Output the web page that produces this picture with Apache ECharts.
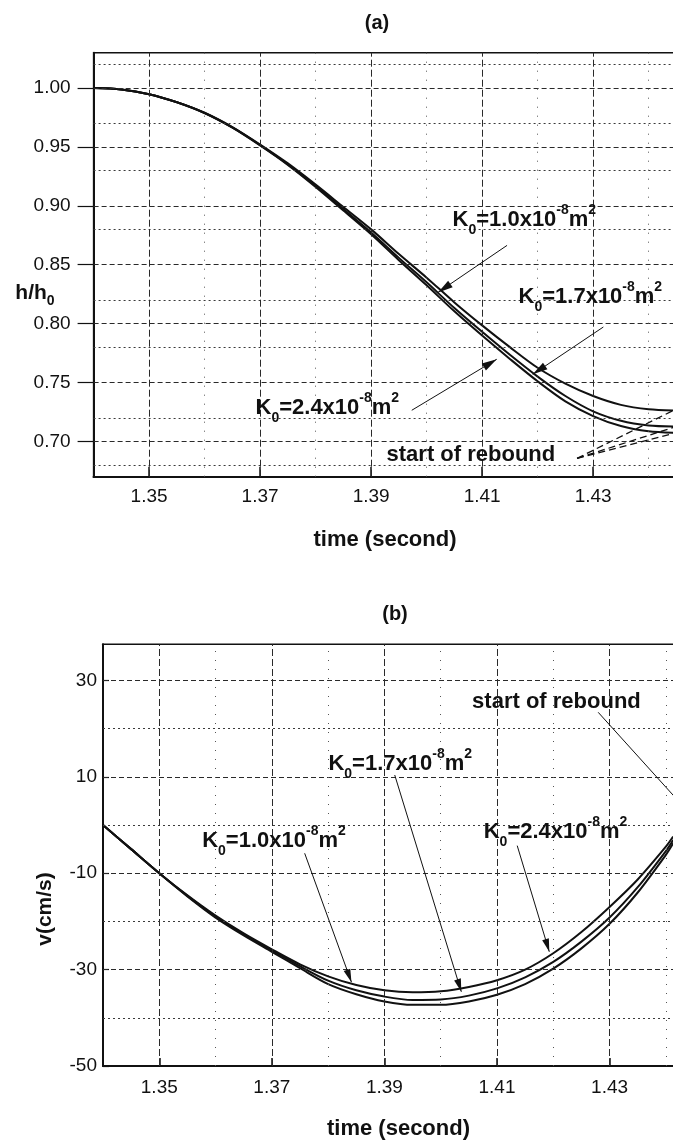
<!DOCTYPE html>
<html>
<head>
<meta charset="utf-8">
<script src="https://cdn.jsdelivr.net/npm/echarts@6/dist/echarts.min.js"></script>
<style>
  html, body { margin: 0; padding: 0; background: #fff; }
  #chart { width: 673px; height: 1142px; }
</style>
</head>
<body>
<div id="chart"></div>
<script>
// Sample times (s) for the thickness curves, panel (a)
const timeH = [1.340, 1.345, 1.350, 1.355, 1.360, 1.365, 1.370, 1.375, 1.380, 1.385, 1.390,
               1.395, 1.400, 1.405, 1.410, 1.415, 1.420, 1.425, 1.430, 1.435, 1.440, 1.4445];
// Normalised thickness h/h0 for three permeabilities
const hK10 = [1.000, 0.9988, 0.9948, 0.9880, 0.9790, 0.9668, 0.9520, 0.9360, 0.9180, 0.8990, 0.8800,
              0.8590, 0.8390, 0.8180, 0.7985, 0.7800, 0.7625, 0.7490, 0.7385, 0.7310, 0.7272, 0.7262];
const hK17 = [1.000, 0.9988, 0.9948, 0.9879, 0.9788, 0.9665, 0.9515, 0.9352, 0.9168, 0.8972, 0.8774,
              0.8558, 0.8350, 0.8132, 0.7930, 0.7735, 0.7550, 0.7385, 0.7255, 0.7175, 0.7135, 0.7127];
const hK24 = [1.000, 0.9988, 0.9948, 0.9879, 0.9787, 0.9663, 0.9512, 0.9347, 0.9160, 0.8960, 0.8758,
              0.8538, 0.8325, 0.8104, 0.7898, 0.7700, 0.7510, 0.7340, 0.7215, 0.7130, 0.7085, 0.7072];

// Sample times (s) for the velocity curves, panel (b)
const timeV = [1.340, 1.345, 1.350, 1.355, 1.360, 1.365, 1.370, 1.375, 1.380, 1.385, 1.390,
               1.395, 1.400, 1.405, 1.410, 1.415, 1.420, 1.425, 1.430, 1.435, 1.440, 1.4413];
// Velocity v (cm/s) for the same three permeabilities
const vK10 = [0, -5.0, -10.0, -14.6, -18.8, -22.5, -25.8, -28.9, -31.4, -33.2, -34.3,
              -34.7, -34.5, -33.6, -32.2, -30.0, -26.6, -22.2, -17.0, -11.3, -4.5, -2.4];
const vK17 = [0, -5.0, -10.0, -14.7, -19.0, -22.7, -26.0, -29.3, -32.3, -34.3, -35.6,
              -36.3, -36.2, -35.4, -33.9, -31.6, -28.4, -24.2, -19.2, -12.9, -5.4, -3.1];
const vK24 = [0, -5.0, -10.0, -14.8, -19.2, -22.9, -26.3, -29.7, -33.0, -35.1, -36.6,
              -37.3, -37.3, -36.6, -35.2, -33.0, -29.8, -25.6, -20.5, -14.0, -6.2, -3.8];

// Axis ticks and grid lines
const timeTicks = [1.35, 1.37, 1.39, 1.41, 1.43];
const timeMinor = [1.36, 1.38, 1.40, 1.42, 1.44];
const hTicks = [0.70, 0.75, 0.80, 0.85, 0.90, 0.95, 1.00];
const hMinor = [0.675, 0.725, 0.775, 0.825, 0.875, 0.925, 0.975, 1.025];
const vTicks = [-50, -30, -10, 10, 30];
const vMajorLines = [-30, -10, 10, 30];
const vMinor = [-40, -20, 0, 20];

const F = '"Liberation Sans", Arial, Helvetica, sans-serif';
const INK = '#111';

const pairs = (xs, ys) => xs.map((x, i) => [x, ys[i]]);

const kRich = {
  k: { fontSize: 22, fontWeight: 'bold', fontFamily: F, color: INK, lineHeight: 34 },
  s: { fontSize: 14, fontWeight: 'bold', fontFamily: F, color: INK, lineHeight: 16, verticalAlign: 'bottom' },
  p: { fontSize: 14, fontWeight: 'bold', fontFamily: F, color: INK, lineHeight: 16, verticalAlign: 'top' },
  t: { fontSize: 22, fontWeight: 'bold', fontFamily: F, color: INK, lineHeight: 34 }
};
const kText = k => '{k|K}{s|0}{k|=' + k + 'x10}{p|-8}{k|m}{p|2}';

const majorH = { color: '#2a2a2a', width: 1, type: [5, 3] };
const majorV = { color: '#2a2a2a', width: 1, type: [7, 3] };
const minorH = { color: '#3a3a3a', width: 1, type: [2, 3] };
const minorV = { color: '#555', width: 1, type: [1, 8] };

function gridLines(idx, xMajor, xMinor, yMajor, yMinor) {
  return {
    type: 'line', xAxisIndex: idx, yAxisIndex: idx, data: [], silent: true, z: 1,
    markLine: {
      silent: true, animation: false, symbol: ['none', 'none'], label: { show: false },
      emphasis: { disabled: true },
      data: [].concat(
        yMinor.map(v => ({ yAxis: v, lineStyle: minorH })),
        yMajor.map(v => ({ yAxis: v, lineStyle: majorH })),
        xMinor.map(v => ({ xAxis: v, lineStyle: minorV })),
        xMajor.map(v => ({ xAxis: v, lineStyle: majorV }))
      )
    }
  };
}

function curve(idx, xs, ys) {
  return {
    type: 'line', xAxisIndex: idx, yAxisIndex: idx, data: pairs(xs, ys),
    showSymbol: false, smooth: 0.3, z: 3,
    lineStyle: { color: INK, width: 2 }, silent: true
  };
}

function arrow(from, to, size) {
  return [
    { coord: from, symbol: 'none' },
    { coord: to, symbol: 'triangle', symbolSize: size, symbolOffset: [0, size[1] / 2] }
  ];
}

function note(coord, text) {
  return {
    coord: coord, symbol: 'circle', symbolSize: 1,
    itemStyle: { color: 'rgba(0,0,0,0)' },
    label: { show: true, position: 'right', distance: 0, formatter: text, rich: kRich }
  };
}

// Annotations for panel (a)
const annotA = {
  type: 'line', xAxisIndex: 0, yAxisIndex: 0, data: [], silent: true, z: 4,
  markLine: {
    silent: true, animation: false, label: { show: false }, emphasis: { disabled: true },
    lineStyle: { color: INK, width: 1, type: 'solid' },
    data: [
      arrow([1.41449, 0.8664], [1.40205, 0.8265], [8, 15]),
      arrow([1.43184, 0.7971], [1.41912, 0.7569], [8, 15]),
      arrow([1.39732, 0.7264], [1.41263, 0.7697], [8, 15]),
      [{ coord: [1.4271, 0.6856], symbol: 'none', lineStyle: { type: [7, 4], width: 1.3 } }, { coord: [1.4445, 0.7264], symbol: 'none' }],
      [{ coord: [1.4271, 0.6856], symbol: 'none', lineStyle: { type: [7, 4], width: 1.3 } }, { coord: [1.4445, 0.7119], symbol: 'none' }],
      [{ coord: [1.4271, 0.6856], symbol: 'none', lineStyle: { type: [7, 4], width: 1.3 } }, { coord: [1.4445, 0.7068], symbol: 'none' }]
    ]
  },
  markPoint: {
    silent: true, animation: false,
    data: [
      note([1.40458, 0.8877], kText('1.0')),
      note([1.41647, 0.8223], kText('1.7')),
      note([1.36908, 0.7281], kText('2.4')),
      note([1.39269, 0.6881], '{t|start of rebound}')
    ]
  }
};

// Annotations for panel (b)
const annotB = {
  type: 'line', xAxisIndex: 1, yAxisIndex: 1, data: [], silent: true, z: 4,
  markLine: {
    silent: true, animation: false, label: { show: false }, emphasis: { disabled: true },
    lineStyle: { color: INK, width: 1, type: 'solid' },
    data: [
      arrow([1.37583, -5.86], [1.38414, -32.6], [7, 13]),
      arrow([1.39183, 10.38], [1.40366, -34.6], [7, 13]),
      arrow([1.41359, -4.28], [1.41929, -26.3], [7, 13]),
      [{ coord: [1.42798, 23.39], symbol: 'none' }, { coord: [1.445, 1.4], symbol: 'none' }]
    ]
  },
  markPoint: {
    silent: true, animation: false,
    data: [
      note([1.35753, -3.31], kText('1.0')),
      note([1.37996, 12.67], kText('1.7')),
      note([1.40755, -1.44], kText('2.4')),
      note([1.40549, 25.53], '{t|start of rebound}')
    ]
  }
};

const labelStyle = { fontSize: 19, color: INK, fontFamily: F };
const nameStyle = { fontSize: 22, fontWeight: 'bold', color: INK, fontFamily: F };

const option = {
  animation: false,
  backgroundColor: '#fff',
  grid: [
    { left: 93.6, top: 52.7, right: -3.4, height: 424, show: true, borderColor: INK, borderWidth: 1.5,
      backgroundColor: 'transparent', containLabel: false, outerBoundsMode: 'none' },
    { left: 103, top: 644.3, right: -21, height: 421.7, show: true, borderColor: INK, borderWidth: 1.5,
      backgroundColor: 'transparent', containLabel: false, outerBoundsMode: 'none' }
  ],
  xAxis: [
    { gridIndex: 0, type: 'value', min: 1.34, max: 1.445,
      axisLine: { show: true, onZero: false, lineStyle: { color: INK, width: 2.2 } },
      axisTick: { show: true, inside: true, length: 10, customValues: timeTicks, lineStyle: { color: INK, width: 1.5 } },
      axisLabel: { customValues: timeTicks, formatter: v => v.toFixed(2), margin: 11, ...labelStyle },
      splitLine: { show: false },
      name: 'time (second)', nameLocation: 'middle', nameGap: 52, nameTextStyle: nameStyle },
    { gridIndex: 1, type: 'value', min: 1.34, max: 1.445,
      axisLine: { show: true, onZero: false, lineStyle: { color: INK, width: 2.2 } },
      axisTick: { show: true, inside: true, length: 8, customValues: timeTicks, lineStyle: { color: INK, width: 1.5 } },
      axisLabel: { customValues: timeTicks, formatter: v => v.toFixed(2), margin: 12, ...labelStyle },
      splitLine: { show: false },
      name: 'time (second)', nameLocation: 'middle', nameGap: 52, nameTextStyle: nameStyle }
  ],
  yAxis: [
    { gridIndex: 0, type: 'value', min: 0.67, max: 1.03,
      axisLine: { show: true, onZero: false, lineStyle: { color: INK, width: 2 } },
      axisTick: { show: true, inside: false, length: 16, customValues: hTicks, lineStyle: { color: INK, width: 1.2 } },
      axisLabel: { customValues: hTicks, formatter: v => v.toFixed(2), margin: 23, ...labelStyle },
      splitLine: { show: false } },
    { gridIndex: 1, type: 'value', min: -50, max: 37.5,
      axisLine: { show: true, onZero: false, lineStyle: { color: INK, width: 2 } },
      axisTick: { show: true, inside: true, length: 6, customValues: vTicks, lineStyle: { color: INK, width: 1.2 } },
      axisLabel: { customValues: vTicks, formatter: v => String(v), margin: 6, ...labelStyle },
      splitLine: { show: false } }
  ],
  graphic: [
    { type: 'text', x: 377, y: 23, silent: true,
      style: { text: '(a)', textAlign: 'center', textVerticalAlign: 'middle', fontSize: 20, fontWeight: 'bold', fontFamily: F, fill: INK } },
    { type: 'text', x: 395, y: 614, silent: true,
      style: { text: '(b)', textAlign: 'center', textVerticalAlign: 'middle', fontSize: 20, fontWeight: 'bold', fontFamily: F, fill: INK } },
    { type: 'text', x: 35, y: 293, silent: true,
      style: { text: '{a|h/h}{s|0}', textAlign: 'center', textVerticalAlign: 'middle',
        rich: {
          a: { fontSize: 21, fontWeight: 'bold', fontFamily: F, fill: INK, lineHeight: 30 },
          s: { fontSize: 14, fontWeight: 'bold', fontFamily: F, fill: INK, lineHeight: 16, verticalAlign: 'bottom' }
        } } },
    { type: 'text', x: 45, y: 909, rotation: Math.PI / 2, silent: true,
      style: { text: 'v(cm/s)', textAlign: 'center', textVerticalAlign: 'middle', fontSize: 21, fontWeight: 'bold', fontFamily: F, fill: INK } }
  ],
  series: [
    gridLines(0, timeTicks, timeMinor, hTicks, hMinor),
    gridLines(1, timeTicks, timeMinor, vMajorLines, vMinor),
    curve(0, timeH, hK10),
    curve(0, timeH, hK17),
    curve(0, timeH, hK24),
    curve(1, timeV, vK10),
    curve(1, timeV, vK17),
    curve(1, timeV, vK24),
    annotA,
    annotB
  ]
};

const chart = echarts.init(document.getElementById('chart'), null, { renderer: 'canvas' });
chart.setOption(option);
</script>
</body>
</html>
